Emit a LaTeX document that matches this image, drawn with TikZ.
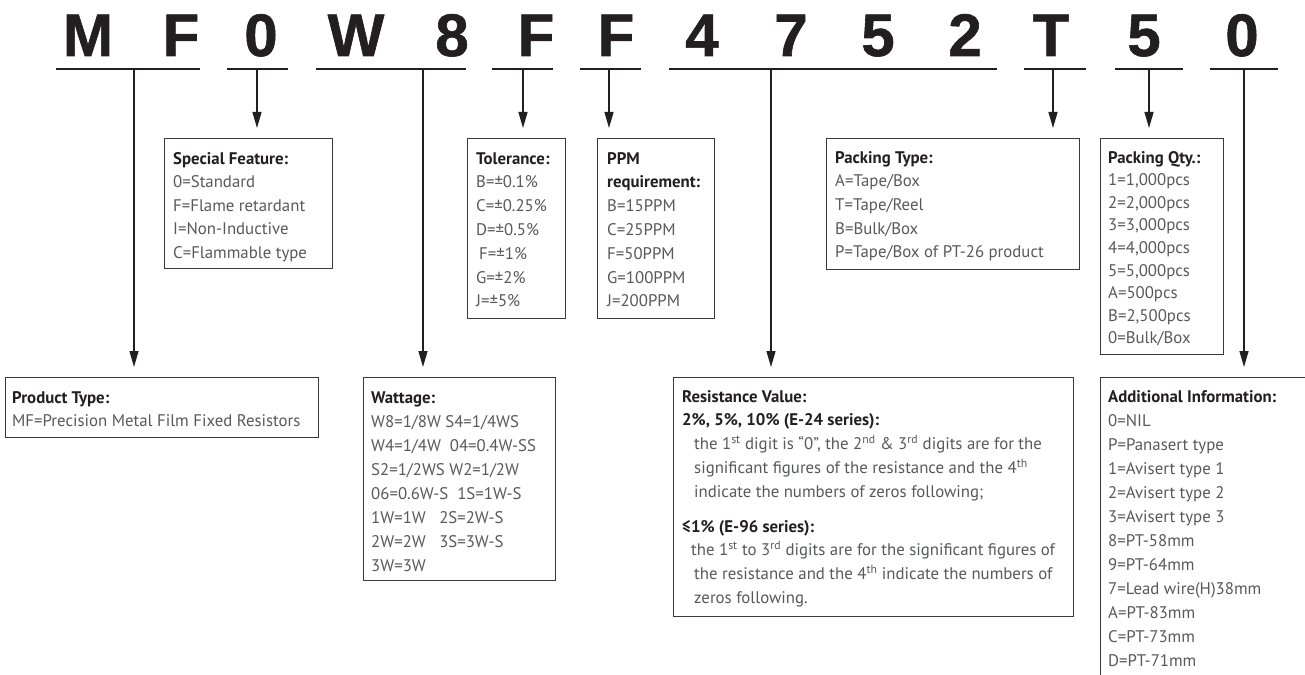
\documentclass[tikz,border=0pt]{standalone}
\usepackage{fontspec}
\setmainfont{PT Sans}
\newfontfamily\bigfont[BoldFeatures={FakeBold=1}]{Liberation Sans}
\usetikzlibrary{arrows.meta}
\definecolor{ink}{HTML}{231F20}
\definecolor{bodyc}{HTML}{58595B}
\definecolor{framec}{HTML}{3A3A3A}
\newcommand{\boxtxt}[3]{\parbox[t]{#1}{\fontsize{16.8}{#2}\selectfont\leavevmode\color{bodyc}#3}}
\newcommand{\hd}[1]{{\bfseries\color{ink}#1}}
\begin{document}
\begin{tikzpicture}[x=1pt,y=-1pt,
  digit/.style={font=\bigfont\bfseries\fontsize{60}{60}\selectfont, text=ink, inner sep=0pt, anchor=base},
  uline/.style={draw=ink, line width=1.6pt},
  arr/.style={draw=ink, line width=1.2pt, -{Triangle[length=16pt,width=9pt]}, shorten >=10pt},
  framebox/.style={draw=framec, line width=1.2pt, inner sep=0pt, anchor=north west},
  txt/.style={inner sep=0pt, anchor=base west},
]
\useasboundingbox (0,0) rectangle (1305,674);
\clip (0,0) rectangle (1305,674);
\fill[white] (0,0) rectangle (1305,674);

% code letters
\foreach \c/\x [count=\i] in {M/88,F/181,0/261,W/356,8/452,F/536,F/616,4/702,7/791,5/878,2/965,T/1051,5/1144,0/1242}
  \node[digit] (l\i) at (\x,56) {\c};

% underline coordinates
\coordinate (u1a) at (56,69);   \coordinate (u1b) at (200,69);  \coordinate (s1) at (134,69);
\coordinate (u2a) at (227,69);  \coordinate (u2b) at (288,69);  \coordinate (s2) at (257,69);
\coordinate (u3a) at (316,69);  \coordinate (u3b) at (466,69);  \coordinate (s3) at (423,69);
\coordinate (u4a) at (492,69);  \coordinate (u4b) at (553,69);  \coordinate (s4) at (523,69);
\coordinate (u5a) at (580,69);  \coordinate (u5b) at (641,69);  \coordinate (s5) at (609,69);
\coordinate (u6a) at (669,69);  \coordinate (u6b) at (997,69);  \coordinate (s6) at (771,69);
\coordinate (u7a) at (1024,69); \coordinate (u7b) at (1086,69); \coordinate (s7) at (1053,69);
\coordinate (u8a) at (1115,69); \coordinate (u8b) at (1183,69); \coordinate (s8) at (1149,69);
\coordinate (u9a) at (1210,69); \coordinate (u9b) at (1278,69); \coordinate (s9) at (1244,69);
\foreach \i in {1,...,9} \draw[uline] (u\i a) -- (u\i b);

% boxes
\node[framebox, minimum width=313pt, minimum height=60pt]  (pt)  at (5,377) {};
\node[framebox, minimum width=168pt, minimum height=130pt] (sf)  at (164,138) {};
\node[framebox, minimum width=98pt,  minimum height=180pt] (tol) at (467,138) {};
\node[framebox, minimum width=117pt, minimum height=180pt] (ppm) at (597,138) {};
\node[framebox, minimum width=253pt, minimum height=131pt] (pkt) at (826,138) {};
\node[framebox, minimum width=123pt, minimum height=216pt] (pkq) at (1100,138) {};
\node[framebox, minimum width=192pt, minimum height=203pt] (wat) at (363,377) {};
\node[framebox, minimum width=400pt, minimum height=239pt] (res) at (673,377) {};
\node[framebox, minimum width=300pt, minimum height=400pt] (add) at (1100,377) {};

% connectors
\draw[arr] (s1) -- (s1 |- pt.north);
\draw[arr] (s2) -- (s2 |- sf.north);
\draw[arr] (s3) -- (s3 |- wat.north);
\draw[arr] (s4) -- (s4 |- tol.north);
\draw[arr] (s5) -- (s5 |- ppm.north);
\draw[arr] (s6) -- (s6 |- res.north);
\draw[arr] (s7) -- (s7 |- pkt.north);
\draw[arr] (s8) -- (s8 |- pkq.north);
\draw[arr] (s9) -- (s9 |- add.north);

% texts
\node[txt] (ptt) at (12,403) {\boxtxt{305pt}{23.6pt}{\hd{Product Type:}\\MF=Precision Metal Film Fixed Resistors}};
\node[txt] (sft) at (173,164) {\boxtxt{160pt}{23.6pt}{\hd{Special Feature:}\\0=Standard\\F=Flame retardant\\I=Non-Inductive\\C=Flammable type}};
\node[txt] (tolt) at (476,164) {\boxtxt{90pt}{23.8pt}{\hd{Tolerance:}\\B=±0.1\%\\C=±0.25\%\\D=±0.5\%\\\hspace*{3pt}F=±1\%\\G=±2\%\\J=±5\%}};
\node[txt] (ppmt) at (607,164) {\boxtxt{105pt}{23.8pt}{\hd{PPM}\\\hd{requirement:}\\B=15PPM\\C=25PPM\\F=50PPM\\G=100PPM\\J=200PPM}};
\node[txt] (pktt) at (835,163) {\boxtxt{240pt}{23.7pt}{\hd{Packing Type:}\\A=Tape/Box\\T=Tape/Reel\\B=Bulk/Box\\P=Tape/Box of PT-26 product}};
\node[txt] (pkqt) at (1108,163) {\boxtxt{112pt}{22.6pt}{\hd{Packing Qty.:}\\1=1,000pcs\\2=2,000pcs\\3=3,000pcs\\4=4,000pcs\\5=5,000pcs\\A=500pcs\\B=2,500pcs\\0=Bulk/Box}};
\node[txt] (watt) at (371,403) {\boxtxt{180pt}{24pt}{\hd{Wattage:}\\W8=1/8W S4=1/4WS\\W4=1/4W\ \ 04=0.4W-SS\\S2=1/2WS\ W2=1/2W\\06=0.6W-S\ \ 1S=1W-S\\1W=1W\ \ \ 2S=2W-S\\2W=2W\ \ \ 3S=3W-S\\3W=3W}};
\node[txt] (rest) at (682,402) {\boxtxt{390pt}{23.8pt}{\hd{Resistance Value:}\\
\hd{2\%, 5\%, 10\% (E-24 series):}\\
\hspace*{12pt}the 1\textsuperscript{st} digit is “0”, the 2\textsuperscript{nd} \& 3\textsuperscript{rd} digits are for the\\
\hspace*{12pt}significant figures of the resistance and the 4\textsuperscript{th}\\
\hspace*{12pt}indicate the numbers of zeros following;\\[11pt]
\hd{≤1\% (E-96 series):}\\
\hspace*{9pt}the 1\textsuperscript{st} to 3\textsuperscript{rd} digits are for the significant figures of\\
\hspace*{12pt}the resistance and the 4\textsuperscript{th} indicate the numbers of\\
\hspace*{12pt}zeros following.}};
\node[txt] (addt) at (1108,402) {\boxtxt{190pt}{24pt}{\hd{Additional Information:}\\0=NIL\\P=Panasert type\\1=Avisert type 1\\2=Avisert type 2\\3=Avisert type 3\\8=PT-58mm\\9=PT-64mm\\7=Lead wire(H)38mm\\A=PT-83mm\\C=PT-73mm\\D=PT-71mm}};
\end{tikzpicture}
\end{document}
